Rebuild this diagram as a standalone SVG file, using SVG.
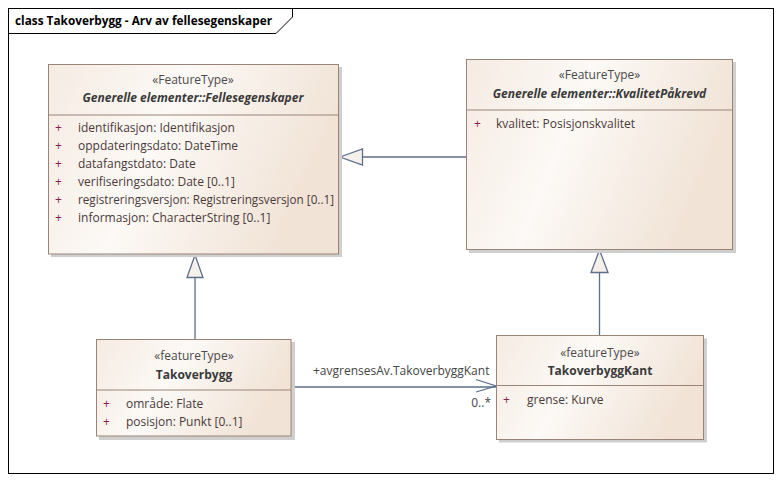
<svg xmlns="http://www.w3.org/2000/svg" width="782" height="482" viewBox="0 0 782 482">
<style>
text{font-family:"Open Sans","Liberation Sans",sans-serif;font-size:12px;fill:#444}
.st{text-anchor:middle;fill:#4a4a4a}
.nm{text-anchor:middle;font-weight:bold;fill:#3a3a3a}
.it{font-style:italic}
.pl{fill:#8a1f4f}
.at{fill:#4a3a3a}
.box{fill:url(#g);stroke:#9a8478;stroke-width:1}
.sh{fill:#cfcfcf}
.sep{stroke:#9a8478;stroke-width:1}
.ln{stroke:#5d6d8c;stroke-width:1.3;fill:none}
.tri{stroke:#5d6d8c;stroke-width:1.3;fill:#f6f0ea}
</style>
<defs>
<linearGradient id="g" x1="0" y1="0" x2="1" y2="0.3">
<stop offset="0" stop-color="#f5ebe2"/>
<stop offset="0.45" stop-color="#fcf9f6"/>
<stop offset="1" stop-color="#f1e3d6"/>
</linearGradient>
</defs>
<rect x="0" y="0" width="782" height="482" fill="#ffffff"/>
<g id="frame">
<rect x="8.5" y="8.5" width="765" height="465" fill="#ffffff" stroke="#000" stroke-width="1"/>
<path d="M8.5 33.5 H276 L292.5 17 V8.5" fill="none" stroke="#000" stroke-width="1"/>
<text x="15" y="25" textLength="257" lengthAdjust="spacingAndGlyphs" style="font-weight:bold;fill:#000">class Takoverbygg - Arv av fellesegenskaper</text>
</g>
<g id="connectors">
<path class="ln" d="M466 157 H362"/>
<path class="tri" d="M340 157 L362.5 149 L362.5 165 Z"/>
<path class="ln" d="M195 339 V277"/>
<path class="tri" d="M195 255 L187 277.5 L203 277.5 Z"/>
<path class="ln" d="M599.5 335.5 V272.5"/>
<path class="tri" d="M599.5 250 L591 272.5 L608 272.5 Z"/>
<path class="ln" d="M291 387 H496"/>
<path class="ln" d="M476 379.5 L496 386 L476 392"/>
<text x="313" y="375">+avgrensesAv.TakoverbyggKant</text>
<text x="491" y="407" style="text-anchor:end">0..*</text>
</g>
<g id="fellesegenskaper">
<rect class="sh" x="51" y="67" width="291" height="190"/>
<rect class="box" x="48.5" y="64.5" width="290" height="189.5"/>
<line class="sep" x1="48.5" y1="115" x2="338.5" y2="115"/>
<text class="st" x="193" y="84">«FeatureType»</text>
<text class="nm it" x="193" y="102">Generelle elementer::Fellesegenskaper</text>
<text class="pl" x="55" y="132">+</text><text class="at" x="78" y="132">identifikasjon: Identifikasjon</text>
<text class="pl" x="55" y="150">+</text><text class="at" x="78" y="150">oppdateringsdato: DateTime</text>
<text class="pl" x="55" y="168">+</text><text class="at" x="78" y="168">datafangstdato: Date</text>
<text class="pl" x="55" y="186">+</text><text class="at" x="78" y="186">verifiseringsdato: Date [0..1]</text>
<text class="pl" x="55" y="204">+</text><text class="at" x="78" y="204" textLength="256" lengthAdjust="spacingAndGlyphs">registreringsversjon: Registreringsversjon [0..1]</text>
<text class="pl" x="55" y="222">+</text><text class="at" x="78" y="222">informasjon: CharacterString [0..1]</text>
</g>
<g id="kvalitetpakrevd">
<rect class="sh" x="469" y="62" width="267" height="191"/>
<rect class="box" x="466.5" y="59.5" width="266" height="190"/>
<line class="sep" x1="466.5" y1="110" x2="732.5" y2="110"/>
<text class="st" x="599.5" y="79">«FeatureType»</text>
<text class="nm it" x="599.5" y="97.5">Generelle elementer::KvalitetPåkrevd</text>
<text class="pl" x="474" y="128">+</text><text class="at" x="496" y="128">kvalitet: Posisjonskvalitet</text>
</g>
<g id="takoverbygg">
<rect class="sh" x="99" y="342" width="196" height="98"/>
<rect class="box" x="96.5" y="339.5" width="194.5" height="96.5"/>
<line class="sep" x1="96.5" y1="390" x2="291" y2="390"/>
<text class="st" x="194" y="360">«featureType»</text>
<text class="nm" x="194" y="378.5">Takoverbygg</text>
<text class="pl" x="103" y="408">+</text><text class="at" x="126" y="408">område: Flate</text>
<text class="pl" x="103" y="426">+</text><text class="at" x="126" y="426">posisjon: Punkt [0..1]</text>
</g>
<g id="takoverbyggkant">
<rect class="sh" x="499" y="338.5" width="208" height="104"/>
<rect class="box" x="496.5" y="335.5" width="207" height="104"/>
<line class="sep" x1="496.5" y1="385.5" x2="703.5" y2="385.5"/>
<text class="st" x="600" y="357">«featureType»</text>
<text class="nm" x="600" y="374.5">TakoverbyggKant</text>
<text class="pl" x="503" y="404">+</text><text class="at" x="527" y="404">grense: Kurve</text>
</g>
</svg>
